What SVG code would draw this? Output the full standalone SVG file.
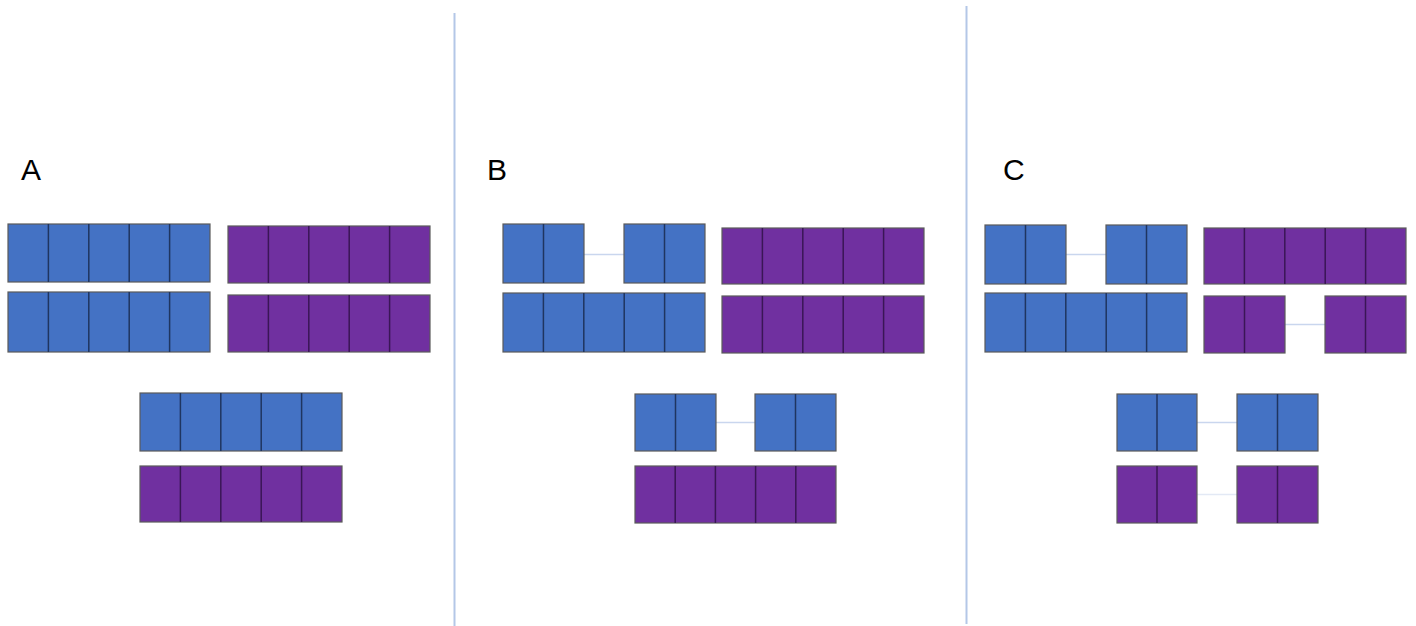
<svg xmlns="http://www.w3.org/2000/svg" width="1416" height="626" viewBox="0 0 1416 626">
<style>
.b{fill:#4472c4;stroke:#5a5a5a;stroke-width:1.2}
.p{fill:#7030a0;stroke:#5a5a5a;stroke-width:1.2}
.db{fill:none;stroke:#1f3560;stroke-width:1.5}
.dp{fill:none;stroke:#3a1656;stroke-width:1.5}
.sep{stroke:#b4c7e7;stroke-width:2}
.con{stroke:#c9d6ee;stroke-width:1.5}
.lbl{font-family:"Liberation Sans",Arial,sans-serif;font-size:30px;fill:#000}
</style>
<rect width="1416" height="626" fill="#fff"/>
<g id="separators">
<line class="sep" x1="454.5" y1="13" x2="454.5" y2="626"/>
<line class="sep" x1="966.5" y1="6" x2="966.5" y2="624"/>
</g>
<g id="labels">
<text class="lbl" x="21" y="180">A</text>
<text class="lbl" x="487" y="180">B</text>
<text class="lbl" x="1003" y="180">C</text>
</g>
<g id="connectors">
<line class="con" x1="584" y1="254.5" x2="624" y2="254.5"/>
<line class="con" x1="716" y1="422.5" x2="755" y2="422.5"/>
<line class="con" x1="1066" y1="254.5" x2="1106" y2="254.5"/>
<line class="con" x1="1285" y1="324.5" x2="1325" y2="324.5"/>
<line class="con" x1="1197" y1="422.5" x2="1237" y2="422.5"/>
<line class="con" x1="1197" y1="494.5" x2="1237" y2="494.5" style="stroke:#e3e9f5"/>
</g>
<g id="A-blue-1"><rect class="b" x="8" y="224" width="202" height="58"/><path class="db" d="M48.4 224v58M88.8 224v58M129.2 224v58M169.6 224v58"/></g>
<g id="A-blue-2"><rect class="b" x="8" y="292" width="202" height="60"/><path class="db" d="M48.4 292v60M88.8 292v60M129.2 292v60M169.6 292v60"/></g>
<g id="A-purple-1"><rect class="p" x="228" y="226" width="202" height="57"/><path class="dp" d="M268.4 226v57M308.8 226v57M349.2 226v57M389.6 226v57"/></g>
<g id="A-purple-2"><rect class="p" x="228" y="295" width="202" height="57"/><path class="dp" d="M268.4 295v57M308.8 295v57M349.2 295v57M389.6 295v57"/></g>
<g id="A-blue-3"><rect class="b" x="140" y="393" width="202" height="58"/><path class="db" d="M180.4 393v58M220.8 393v58M261.2 393v58M301.6 393v58"/></g>
<g id="A-purple-3"><rect class="p" x="140" y="466" width="202" height="56"/><path class="dp" d="M180.4 466v56M220.8 466v56M261.2 466v56M301.6 466v56"/></g>

<g id="B-blue-1a"><rect class="b" x="503" y="224" width="81" height="59"/><path class="db" d="M543.5 224v59"/></g>
<g id="B-blue-1b"><rect class="b" x="624" y="224" width="81" height="59"/><path class="db" d="M664.5 224v59"/></g>
<g id="B-blue-2"><rect class="b" x="503" y="293" width="202" height="59"/><path class="db" d="M543.4 293v59M583.8 293v59M624.2 293v59M664.6 293v59"/></g>
<g id="B-purple-1"><rect class="p" x="722" y="228" width="202" height="56"/><path class="dp" d="M762.4 228v56M802.8 228v56M843.2 228v56M883.6 228v56"/></g>
<g id="B-purple-2"><rect class="p" x="722" y="296" width="202" height="57"/><path class="dp" d="M762.4 296v57M802.8 296v57M843.2 296v57M883.6 296v57"/></g>
<g id="B-blue-3a"><rect class="b" x="635" y="394" width="81" height="57"/><path class="db" d="M675.5 394v57"/></g>
<g id="B-blue-3b"><rect class="b" x="755" y="394" width="81" height="57"/><path class="db" d="M795.5 394v57"/></g>
<g id="B-purple-3"><rect class="p" x="635" y="466" width="201" height="57"/><path class="dp" d="M675.2 466v57M715.4 466v57M755.6 466v57M795.8 466v57"/></g>

<g id="C-blue-1a"><rect class="b" x="985" y="225" width="81" height="59"/><path class="db" d="M1025.5 225v59"/></g>
<g id="C-blue-1b"><rect class="b" x="1106" y="225" width="81" height="59"/><path class="db" d="M1146.5 225v59"/></g>
<g id="C-blue-2"><rect class="b" x="985" y="293" width="202" height="59"/><path class="db" d="M1025.4 293v59M1065.8 293v59M1106.2 293v59M1146.6 293v59"/></g>
<g id="C-purple-1"><rect class="p" x="1204" y="228" width="202" height="56"/><path class="dp" d="M1244.4 228v56M1284.8 228v56M1325.2 228v56M1365.6 228v56"/></g>
<g id="C-purple-2a"><rect class="p" x="1204" y="296" width="81" height="57"/><path class="dp" d="M1244.5 296v57"/></g>
<g id="C-purple-2b"><rect class="p" x="1325" y="296" width="81" height="57"/><path class="dp" d="M1365.5 296v57"/></g>
<g id="C-blue-3a"><rect class="b" x="1117" y="394" width="80" height="57"/><path class="db" d="M1157 394v57"/></g>
<g id="C-blue-3b"><rect class="b" x="1237" y="394" width="81" height="57"/><path class="db" d="M1277.5 394v57"/></g>
<g id="C-purple-3a"><rect class="p" x="1117" y="466" width="80" height="57"/><path class="dp" d="M1157 466v57"/></g>
<g id="C-purple-3b"><rect class="p" x="1237" y="466" width="81" height="57"/><path class="dp" d="M1277.5 466v57"/></g>
</svg>
